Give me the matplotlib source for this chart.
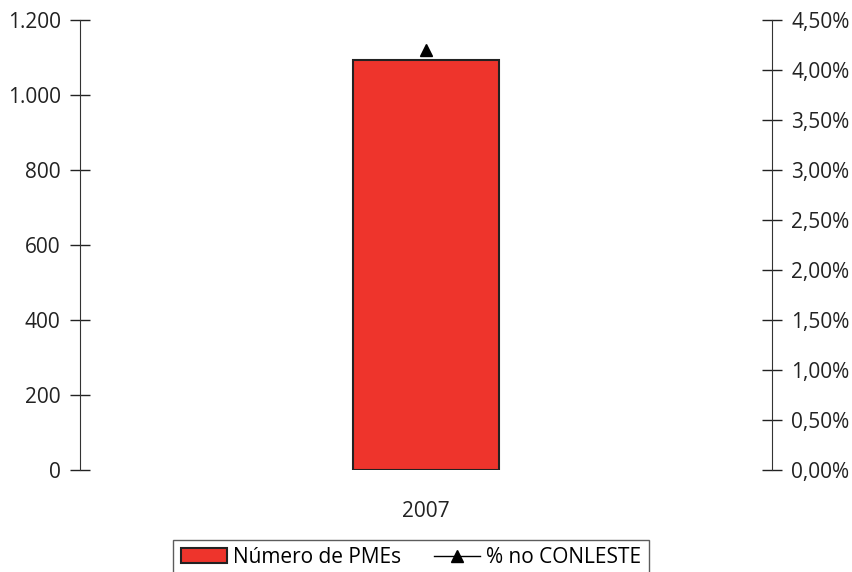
import matplotlib.pyplot as plt
from matplotlib.ticker import FuncFormatter

plt.rcParams['font.family'] = ['Open Sans', 'DejaVu Sans']

# Data
anos = ['2007']
num_pmes = [1093]
pct_conleste = [4.2]

fig = plt.figure(figsize=(8.53, 5.72), dpi=100)
ax = fig.add_axes([0.0938, 0.178, 0.811, 0.787])
ax2 = ax.twinx()

x = list(range(len(anos)))
bars = ax.bar(x, num_pmes, width=0.42, color='#EE342C', edgecolor='#222222',
              linewidth=1.5, label='Número de PMEs', zorder=2)
line, = ax2.plot(x, pct_conleste, color='black', marker='^', markersize=8,
                 linewidth=1, label='% no CONLESTE')

ax.set_xlim(-1, 1)
ax.set_ylim(0, 1200)
ax.set_yticks(range(0, 1201, 200))
ax.yaxis.set_major_formatter(FuncFormatter(lambda v, p: f'{int(v):,}'.replace(',', '.')))
ax2.set_ylim(0, 4.5)
ax2.set_yticks([i * 0.5 for i in range(10)])
ax2.yaxis.set_major_formatter(FuncFormatter(lambda v, p: f'{v:.2f}'.replace('.', ',') + '%'))

ax.set_xticks(x)
ax.set_xticklabels(anos)

for a in (ax, ax2):
    for s in ('top', 'bottom'):
        a.spines[s].set_visible(False)
    a.tick_params(axis='y', direction='inout', length=14, width=1, labelsize=15,
                  colors='#222222', pad=7)
    a.tick_params(axis='x', length=0, labelsize=15, pad=22, colors='#222222')
ax.spines['left'].set_color('#333333')
ax2.spines['right'].set_color('#333333')
ax.spines['right'].set_visible(False)
ax2.spines['left'].set_visible(False)

leg = fig.legend([bars, line], ['Número de PMEs', '% no CONLESTE'],
                 loc='upper center', bbox_to_anchor=(0.482, 0.075), ncol=2,
                 fontsize=15, frameon=True, fancybox=False, edgecolor='#333333',
                 handlelength=2.2, handletextpad=0.3, columnspacing=1.6,
                 borderpad=0.35)
leg.get_frame().set_linewidth(1)

fig.savefig('out.png', dpi=100)
